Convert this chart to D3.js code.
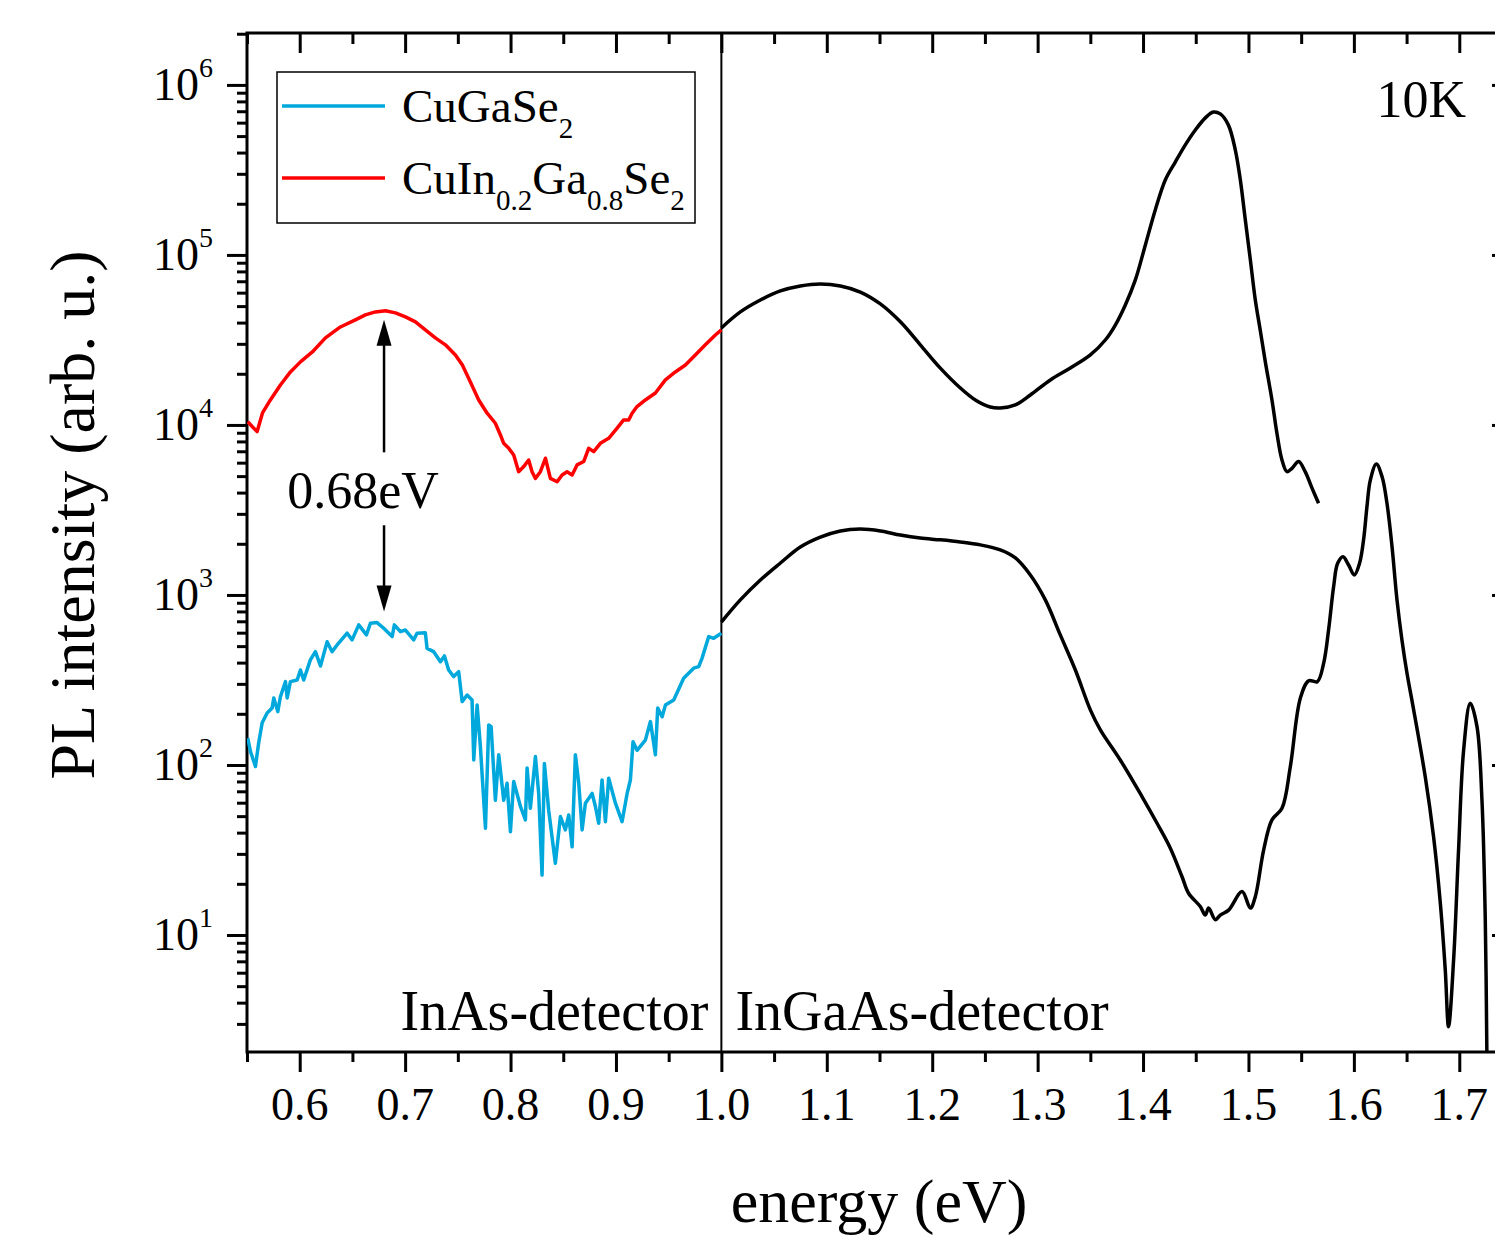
<!DOCTYPE html>
<html><head><meta charset="utf-8">
<script src="https://cdn.jsdelivr.net/npm/d3@7/dist/d3.min.js"></script>
<style>
body{margin:0;background:#fff;}
svg{display:block;}
text{font-family:"Liberation Serif","Times New Roman",serif;fill:#000;}
</style>
</head><body>
<svg id="chart" width="1495" height="1237"></svg>
<script>
// ---------------- data ----------------
// CuGaSe2, InAs detector (blue)
const cgsEnergy = [0.5507,0.5533,0.5580,0.5611,0.5644,0.5691,0.5738,0.5754,0.5792,0.5817,0.5865,0.5881,0.5912,0.5976,0.6007,0.6038,0.6101,0.6149,0.6197,0.6260,0.6307,0.6355,0.6450,0.6497,0.6560,0.6633,0.6671,0.6734,0.6797,0.6877,0.6898,0.6955,0.7003,0.7081,0.7114,0.7192,0.7208,0.7271,0.7335,0.7373,0.7413,0.7461,0.7508,0.7541,0.7588,0.7635,0.7651,0.7683,0.7714,0.7762,0.7793,0.7816,0.7856,0.7888,0.7935,0.7967,0.7999,0.8030,0.8094,0.8141,0.8157,0.8188,0.8236,0.8267,0.8299,0.8321,0.8362,0.8425,0.8473,0.8520,0.8552,0.8584,0.8615,0.8647,0.8679,0.8710,0.8774,0.8805,0.8836,0.8868,0.8900,0.8931,0.8995,0.9058,0.9106,0.9137,0.9162,0.9200,0.9279,0.9327,0.9374,0.9396,0.9438,0.9469,0.9548,0.9642,0.9737,0.9785,0.9817,0.9880,0.9927,1.0000];
const cgsIntensity = [144,120,98,135,177,202,216,248,206,252,309,248,309,316,362,316,415,464,382,531,464,508,596,544,667,582,682,688,637,569,667,608,622,544,596,600,485,464,405,438,362,331,354,236,258,241,107,225,128,42.5,172,168,62,115,62,78,40.5,80,57,47.5,96,55.6,112,68,22.5,102,54,26.4,49.7,41.5,50.8,33,115,78,41.5,59.6,68,57,45.4,81.6,46.4,83.6,59.6,46.4,68,81.6,137,122,140,180,115,216,192,225,241,324,371,379,425,569,556,596];

// CuIn0.2Ga0.8Se2, InAs detector (red)
const cigsEnergy = [0.5507,0.5553,0.5596,0.5647,0.5722,0.5817,0.5912,0.6007,0.6120,0.6244,0.6386,0.6528,0.6623,0.6718,0.6813,0.6908,0.7003,0.7098,0.7192,0.7287,0.7382,0.7477,0.7543,0.7619,0.7698,0.7778,0.7856,0.7904,0.7935,0.7983,0.8030,0.8077,0.8125,0.8172,0.8204,0.8236,0.8283,0.8331,0.8378,0.8442,0.8489,0.8536,0.8584,0.8631,0.8694,0.8741,0.8789,0.8852,0.8931,0.9011,0.9073,0.9121,0.9153,0.9200,0.9279,0.9374,0.9469,0.9563,0.9659,0.9753,0.9848,0.9943,1.0000];
const cigsIntensity = [10450,9730,9140,11770,14030,17190,20500,23490,26880,32500,37700,41500,44400,46200,46900,45600,43200,40400,36200,32500,29600,25800,22500,17900,14030,11720,10230,8730,7800,7290,6660,5310,5690,6220,5310,4850,5310,6370,4850,4630,5080,5310,5080,5820,6090,7290,6970,7800,8350,9570,10700,10700,11720,12830,14030,15420,18400,20500,22500,25800,29600,33800,36200];

// CuIn0.2Ga0.8Se2, InGaAs detector (upper black)
const cigsIngaasEnergy = [1.0000,1.0180,1.0370,1.0560,1.0749,1.0939,1.1129,1.1318,1.1508,1.1698,1.1887,1.2077,1.2267,1.2409,1.2551,1.2646,1.2789,1.2931,1.3121,1.3310,1.3500,1.3642,1.3737,1.3832,1.3927,1.4022,1.4116,1.4211,1.4306,1.4401,1.4496,1.4591,1.4667,1.4733,1.4809,1.4875,1.4923,1.4970,1.5018,1.5065,1.5113,1.5160,1.5223,1.5270,1.5318,1.5365,1.5413,1.5476,1.5538,1.5603,1.5665];
const cigsIngaasIntensity = [37200,46200,54300,61400,65700,67500,65700,60500,51500,40400,29600,21600,16500,14030,12760,12590,13120,15010,18400,21600,25800,31600,38700,50800,71300,114500,184000,276000,352000,444000,543000,640000,693000,675000,582000,415000,276000,161000,93500,54300,35700,23500,14030,8930,6220,5310,5560,6090,5310,4250,3460];

// CuGaSe2, InGaAs detector (lower black)
const cgsIngaasEnergy = [1.0000,1.0180,1.0370,1.0560,1.0749,1.0939,1.1129,1.1318,1.1508,1.1698,1.1887,1.2077,1.2267,1.2457,1.2646,1.2789,1.2931,1.3073,1.3215,1.3358,1.3500,1.3595,1.3784,1.3990,1.4133,1.4259,1.4370,1.4432,1.4543,1.4591,1.4622,1.4686,1.4733,1.4812,1.4939,1.5018,1.5065,1.5144,1.5223,1.5318,1.5397,1.5492,1.5571,1.5653,1.5713,1.5760,1.5808,1.5846,1.5897,1.5950,1.6004,1.6054,1.6092,1.6124,1.6156,1.6213,1.6267,1.6314,1.6362,1.6409,1.6456,1.6504,1.6559,1.6677,1.6756,1.6820,1.6867,1.6898,1.6946,1.6993,1.7041,1.7104,1.7168,1.7215,1.7246,1.7262];
const cgsIngaasIntensity = [693,935,1225,1542,1915,2190,2380,2440,2380,2250,2160,2110,2050,1970,1840,1650,1310,935,582,362,211,161,107,65.2,45.4,32.4,22,17.6,14.7,13.1,14.4,12.3,13.1,14.0,18.0,14.4,16.8,31.6,47.5,55.6,97.7,247,313,309,396,622,1120,1535,1680,1500,1310,1535,2110,3300,4740,5900,4970,3460,1920,935,544,346,225,85.3,37.8,15.4,6.22,2.89,7.13,31.6,122,231,168,62.2,12.8,1.9];

const xTickValues = [0.6,0.7,0.8,0.9,1.0,1.1,1.2,1.3,1.4,1.5,1.6,1.7];
const yDecades = [1,2,3,4,5,6];
const xDomain = [0.55, 1.75];
const yDomain = [2.05, 2.02e6];
const detectorSplit = 1.0;
const peakEnergy = 0.68;
const peakLabel = "0.68eV";
const temperatureLabel = "10K";
const detectorLabels = ["InAs-detector", "InGaAs-detector"];
const xTitle = "energy (eV)";
const yTitle = "PL intensity (arb. u.)";
// legend entries: parts of [text, isSubscript]
const legendEntries = [
  {color:"#00a8dc", parts:[["CuGaSe",false],["2",true]]},
  {color:"#ff0000", parts:[["CuIn",false],["0.2",true],["Ga",false],["0.8",true],["Se",false],["2",true]]}
];

// ---------------- layout ----------------
const L = 247, R = 1512, T = 33, B = 1052;
const svg = d3.select("#chart");
const x = d3.scaleLinear().domain(xDomain).range([L, R]);
const y = d3.scaleLog().domain(yDomain).range([B, T]);

svg.append("defs").append("clipPath").attr("id","plotclip")
  .append("rect").attr("x",L).attr("y",T).attr("width",R-L).attr("height",B-T);

// ---------------- axes ----------------
const xMinor = d3.range(11, 36).map(d => d/20).filter(v => !xTickValues.some(t => Math.abs(t-v) < 1e-6));
const yMajor = yDecades.map(d => Math.pow(10, d));
const yMinor = [];
for (let e = 0; e <= 6; e++) for (let m = 2; m <= 9; m++) {
  const v = m*Math.pow(10,e);
  if (v >= yDomain[0] && v <= yDomain[1]) yMinor.push(v);
}

function styleAxis(g){
  g.select(".domain").remove();
  g.selectAll(".tick line").attr("stroke","#000").attr("stroke-width",3);
  g.selectAll(".tick text").remove();
}
// bottom
svg.append("g").attr("transform",`translate(0,${B})`)
  .call(d3.axisBottom(x).tickValues(xTickValues).tickSize(20).tickFormat("")).call(styleAxis);
svg.append("g").attr("transform",`translate(0,${B})`)
  .call(d3.axisBottom(x).tickValues(xMinor).tickSize(10).tickFormat("")).call(styleAxis);
// top (inward)
svg.append("g").attr("transform",`translate(0,${T})`)
  .call(d3.axisTop(x).tickValues(xTickValues).tickSize(-20).tickFormat("")).call(styleAxis);
svg.append("g").attr("transform",`translate(0,${T})`)
  .call(d3.axisTop(x).tickValues(xMinor).tickSize(-11).tickFormat("")).call(styleAxis);
// left (outward)
svg.append("g").attr("transform",`translate(${L},0)`)
  .call(d3.axisLeft(y).tickValues(yMajor).tickSize(20).tickFormat("")).call(styleAxis);
svg.append("g").attr("transform",`translate(${L},0)`)
  .call(d3.axisLeft(y).tickValues(yMinor).tickSize(10).tickFormat("")).call(styleAxis);
// right (inward)
svg.append("g").attr("transform",`translate(${R},0)`)
  .call(d3.axisRight(y).tickValues(yMajor).tickSize(-20).tickFormat("")).call(styleAxis);
svg.append("g").attr("transform",`translate(${R},0)`)
  .call(d3.axisRight(y).tickValues(yMinor).tickSize(-10).tickFormat("")).call(styleAxis);

// frame
svg.append("rect").attr("x",L).attr("y",T).attr("width",R-L).attr("height",B-T)
  .attr("fill","none").attr("stroke","#000").attr("stroke-width",3);

// tick labels
svg.append("g").selectAll("text").data(xTickValues).join("text")
  .attr("x", d => x(d)).attr("y", B+68).attr("text-anchor","middle")
  .attr("font-size",46).text(d3.format(".1f"));
const yl = svg.append("g").selectAll("text").data(yDecades).join("text")
  .attr("x", 213).attr("y", d => y(Math.pow(10,d)) + 15).attr("text-anchor","end")
  .attr("font-size",46);
yl.append("tspan").text("10");
yl.append("tspan").attr("dy",-23).attr("font-size",28).text(d => d);

// axis titles
svg.append("text").attr("x", 879).attr("y", 1222).attr("text-anchor","middle")
  .attr("font-size",62).text(xTitle);
svg.append("text").attr("transform","translate(94,515) rotate(-90)").attr("text-anchor","middle")
  .attr("font-size",64).text(yTitle);

// detector split line
svg.append("line").attr("x1",x(detectorSplit)).attr("x2",x(detectorSplit))
  .attr("y1",T).attr("y2",B).attr("stroke","#000").attr("stroke-width",2);

// ---------------- curves ----------------
const plot = svg.append("g").attr("clip-path","url(#plotclip)");
const noisyLine = d3.line().x(d => x(d[0])).y(d => y(d[1])).curve(d3.curveLinear);
const smoothLine = d3.line().x(d => x(d[0])).y(d => y(d[1])).curve(d3.curveCatmullRom.alpha(0.5));

plot.append("path").datum(d3.zip(cigsIngaasEnergy, cigsIngaasIntensity))
  .attr("d", smoothLine).attr("fill","none").attr("stroke","#000").attr("stroke-width",3.5).attr("stroke-linejoin","round");
plot.append("path").datum(d3.zip(cgsIngaasEnergy, cgsIngaasIntensity))
  .attr("d", smoothLine).attr("fill","none").attr("stroke","#000").attr("stroke-width",3.5).attr("stroke-linejoin","round");
plot.append("path").datum(d3.zip(cigsEnergy, cigsIntensity))
  .attr("d", noisyLine).attr("fill","none").attr("stroke",legendEntries[1].color).attr("stroke-width",3.5).attr("stroke-linejoin","round");
plot.append("path").datum(d3.zip(cgsEnergy, cgsIntensity))
  .attr("d", noisyLine).attr("fill","none").attr("stroke",legendEntries[0].color).attr("stroke-width",3.5).attr("stroke-linejoin","round");

// ---------------- annotations ----------------
const ax = x(peakEnergy);
const upTip = y(41500), upEnd = y(6900);
const downTip = y(800), downStart = y(2570);
svg.append("line").attr("x1",ax).attr("x2",ax).attr("y1",upTip+20).attr("y2",upEnd)
  .attr("stroke","#000").attr("stroke-width",2.5);
svg.append("path").attr("d",`M${ax},${upTip} L${ax-7.5},${upTip+26} L${ax+7.5},${upTip+26} Z`).attr("fill","#000");
svg.append("line").attr("x1",ax).attr("x2",ax).attr("y1",downStart).attr("y2",downTip-20)
  .attr("stroke","#000").attr("stroke-width",2.5);
svg.append("path").attr("d",`M${ax},${downTip} L${ax-7.5},${downTip-26} L${ax+7.5},${downTip-26} Z`).attr("fill","#000");
svg.append("text").attr("x", ax-21).attr("y", 508).attr("text-anchor","middle")
  .attr("font-size",52).text(peakLabel);

svg.append("text").attr("x", 1466).attr("y", 117).attr("text-anchor","end")
  .attr("font-size",52).text(temperatureLabel);

svg.append("text").attr("x", x(detectorSplit)-13).attr("y", 1030).attr("text-anchor","end")
  .attr("font-size",56).text(detectorLabels[0]);
svg.append("text").attr("x", x(detectorSplit)+14).attr("y", 1030).attr("text-anchor","start")
  .attr("font-size",56).text(detectorLabels[1]);

// ---------------- legend ----------------
const lg = svg.append("g");
lg.append("rect").attr("x",277).attr("y",72).attr("width",418).attr("height",151)
  .attr("fill","#fff").attr("stroke","#000").attr("stroke-width",1.5);
legendEntries.forEach((e,i) => {
  const yy = 106 + i*72;
  lg.append("line").attr("x1",282).attr("x2",385).attr("y1",yy).attr("y2",yy)
    .attr("stroke",e.color).attr("stroke-width",3.5);
  const t = lg.append("text").attr("x",402).attr("y",yy+16).attr("font-size",47);
  let sub = false;
  e.parts.forEach(([s,isSub]) => {
    const ts = t.append("tspan").text(s);
    if (isSub && !sub) { ts.attr("dy",16).attr("font-size",29); sub = true; }
    else if (isSub && sub) { ts.attr("font-size",29); }
    else if (!isSub && sub) { ts.attr("dy",-16); sub = false; }
  });
});
</script>
</body></html>
